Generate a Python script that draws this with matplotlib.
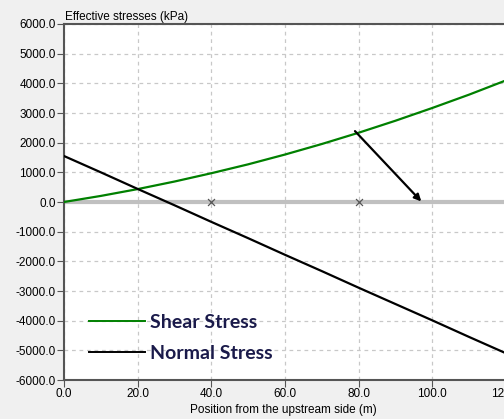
import matplotlib
matplotlib.use("Agg")
import matplotlib.pyplot as plt

# Data
position = [0, 10, 20, 30, 40, 50, 60, 70, 80, 90, 100, 110, 120]
shear_stress = [0, 205, 435, 690, 970, 1270, 1600, 1955, 2335, 2740, 3170, 3620, 4100]
normal_stress = [1550, 1000, 440, -110, -670, -1220, -1780, -2330, -2890, -3440, -3990, -4550, -5100]
marker_x = [40, 80]
marker_y = [0, 0]
arrow_start = (79, 2390)
arrow_end = (97, 20)

plt.rcParams['font.family'] = ['Liberation Sans', 'DejaVu Sans']

fig = plt.figure(figsize=(5.04, 4.19), dpi=100)
fig.patch.set_facecolor('#f0f0f0')
ax = fig.add_axes([64 / 504, 39 / 419, 442 / 504, 356 / 419])
ax.set_facecolor('white')

ax.axhline(0, color='#c0c0c0', lw=3, zorder=2)
ax.plot(position, shear_stress, color='#008000', lw=1.6, zorder=3, label='Shear Stress')
ax.plot(position, normal_stress, color='black', lw=1.6, zorder=3, label='Normal Stress')
ax.scatter(marker_x, marker_y, marker='x', color='#555555', s=25, lw=0.9, zorder=4)
ax.annotate('', xy=arrow_end, xytext=arrow_start,
            arrowprops=dict(arrowstyle='-|>', color='black', lw=1.6,
                            mutation_scale=10, shrinkA=0, shrinkB=0), zorder=5)

ax.set_xlim(0, 120)
ax.set_ylim(-6000, 6000)
ax.set_xticks(range(0, 121, 20))
ax.set_yticks(range(-6000, 6001, 1000))
ax.set_xticklabels([f"{v:.1f}" for v in range(0, 121, 20)])
ax.set_yticklabels([f"{v:.1f}" for v in range(-6000, 6001, 1000)])
ax.tick_params(labelsize=8.5, length=5, color='#555555', pad=1)
ax.grid(True, linestyle=(0, (3, 3)), color='#c8c8c8', lw=0.9)

for side in ['left', 'bottom', 'top']:
    ax.spines[side].set_color('#555555')
    ax.spines[side].set_linewidth(1.5)
ax.spines['right'].set_visible(False)

fig.text(65 / 504, 1 - 17 / 419, 'Effective stresses (kPa)', fontsize=8.5, va='center')
fig.text(283 / 504, 1 - 410 / 419, 'Position from the upstream side (m)', fontsize=8.5,
         ha='center', va='center')

leg = ax.legend(loc='lower left', bbox_to_anchor=((89 - 64) / 442, 0.05), frameon=False,
                borderpad=0, borderaxespad=0,
                handlelength=2.9, handletextpad=0.26, labelspacing=0.72,
                prop={'family': 'Lato', 'weight': 'bold', 'size': 14})
for t in leg.get_texts():
    t.set_color('#1a1a4a')
for h in leg.get_lines():
    h.set_linewidth(1.4)

fig.savefig('out.png', dpi=100, facecolor=fig.get_facecolor())
